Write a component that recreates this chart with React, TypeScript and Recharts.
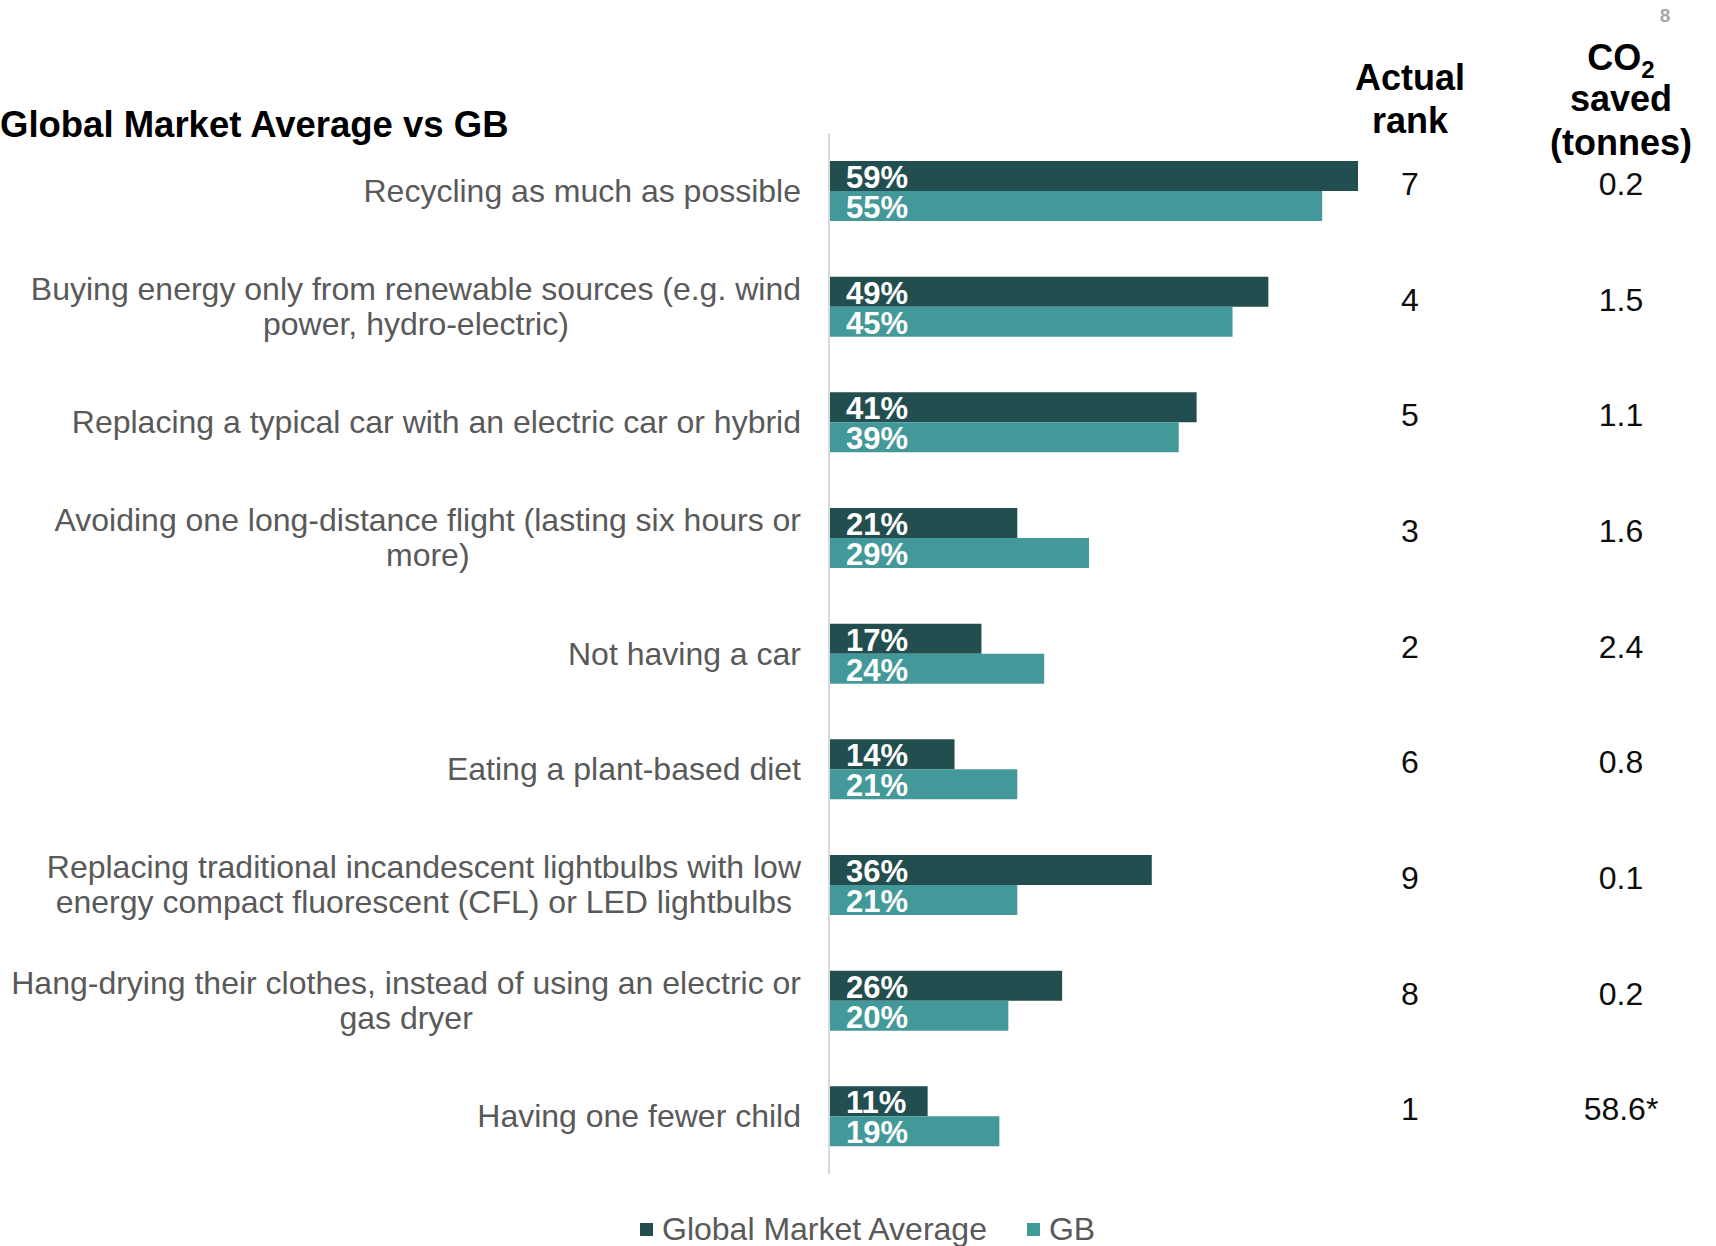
import { BarChart, Bar, XAxis, YAxis, Legend, LabelList } from 'recharts';

const categories = [
  'Recycling as much as possible',
  'Buying energy only from renewable sources (e.g. wind\npower, hydro-electric)',
  'Replacing a typical car with an electric car or hybrid',
  'Avoiding one long-distance flight (lasting six hours or\nmore)',
  'Not having a car',
  'Eating a plant-based diet',
  'Replacing traditional incandescent lightbulbs with low\nenergy compact fluorescent (CFL) or LED lightbulbs',
  'Hang-drying their clothes, instead of using an electric or\ngas dryer',
  'Having one fewer child',
];
const globalAvg = [59, 49, 41, 21, 17, 14, 36, 26, 11];
const gb = [55, 45, 39, 29, 24, 21, 21, 20, 19];
const actualRank = ['7', '4', '5', '3', '2', '6', '9', '8', '1'];
const co2Saved = ['0.2', '1.5', '1.1', '1.6', '2.4', '0.8', '0.1', '0.2', '58.6*'];
const seriesNames = ['Global Market Average', 'GB'];

const DARK = '#224E4F';
const TEAL = '#439899';
const FONT = "'Liberation Sans', Arial, sans-serif";

const data = categories.map((name, i) => ({
  name,
  global: globalAvg[i],
  gb: gb[i],
}));

let ctx: CanvasRenderingContext2D | null = null;
function textWidth(s: string): number {
  if (!ctx) ctx = document.createElement('canvas').getContext('2d');
  if (!ctx) return s.length * 15;
  ctx.font = `32px ${FONT}`;
  return ctx.measureText(s).width;
}

// category labels: right-aligned block, lines centred inside it
function CategoryTick({ x, y, payload }: any) {
  const lines: string[] = String(payload.value).split('\n');
  if (lines.length === 1) {
    return (
      <text x={x} y={y} textAnchor="end" dominantBaseline="central" fontSize={32} fill="#595959" fontFamily={FONT}>
        {lines[0]}
      </text>
    );
  }
  const w = Math.max(...lines.map(textWidth));
  const cx = x - w / 2;
  return (
    <text textAnchor="middle" dominantBaseline="central" fontSize={32} fill="#595959" fontFamily={FONT}>
      {lines.map((l, i) => (
        <tspan key={i} x={cx} y={y + (i - (lines.length - 1) / 2) * 35}>
          {l}
        </tspan>
      ))}
    </text>
  );
}

function RankTick({ x, y, index }: any) {
  return (
    <g fontFamily={FONT} fontSize={32} fill="#0d0d0d" textAnchor="middle">
      <text x={x + 43} y={y + 4}>{actualRank[index]}</text>
      <text x={x + 254} y={y + 4}>{co2Saved[index]}</text>
    </g>
  );
}

function BarValue({ x, y, height, value }: any) {
  return (
    <text x={x + 17} y={y + height - 3} fill="#fff" fontSize={31} fontWeight="bold" fontFamily={FONT}>
      {`${value}%`}
    </text>
  );
}

function Headers() {
  return (
    <g fontFamily={FONT} fill="#000">
      <text x={0} y={137} fontSize={36.5} fontWeight="bold">Global Market Average vs GB</text>
      <text x={1665} y={22} fontSize={19} fontWeight="bold" fill="#a6a6a6" textAnchor="middle">8</text>
      <g fontSize={36} fontWeight="bold" textAnchor="middle">
        <text x={1410} y={90}>Actual</text>
        <text x={1410} y={133}>rank</text>
        <text x={1621} y={70}>
          <tspan>CO</tspan>
          <tspan fontSize={24} dy={8}>2</tspan>
        </text>
        <text x={1621} y={111}>saved</text>
        <text x={1621} y={155}>(tonnes)</text>
      </g>
    </g>
  );
}

function renderLegend({ payload }: any) {
  if (!payload) return null;
  const items = [...payload].sort(
    (a: any, b: any) => seriesNames.indexOf(a.value) - seriesNames.indexOf(b.value),
  );
  return (
    <div style={{ display: 'flex', alignItems: 'center', paddingLeft: 640, fontFamily: FONT, fontSize: 32, color: '#595959', lineHeight: '36px' }}>
      {items.map((entry: any) => (
        <div key={entry.value} style={{ display: 'flex', alignItems: 'center', marginRight: 40 }}>
          <span style={{ display: 'inline-block', width: 13, height: 13, background: entry.color, marginRight: 9 }} />
          <span>{entry.value}</span>
        </div>
      ))}
    </div>
  );
}

export default function App() {
  return (
    <div style={{ position: 'absolute', left: 0, top: 0, background: '#fff' }}>
      <BarChart
        width={1716}
        height={1246}
        data={data}
        layout="vertical"
        margin={{ top: 133, right: 0, bottom: 72, left: 0 }}
        barGap={0}
      >
        <XAxis type="number" domain={[0, 60]} hide />
        <YAxis
          yAxisId="left"
          type="category"
          dataKey="name"
          width={829}
          tickSize={0}
          tickMargin={28}
          tickLine={false}
          axisLine={{ stroke: '#d9d9d9', strokeWidth: 2 }}
          tick={<CategoryTick />}
          interval={0}
        />
        <YAxis
          yAxisId="right"
          orientation="right"
          type="category"
          dataKey="name"
          width={349}
          tickSize={0}
          tickMargin={0}
          tickLine={false}
          axisLine={false}
          tick={<RankTick />}
          interval={0}
        />
        <Bar yAxisId="left" dataKey="global" name={seriesNames[0]} fill={DARK} barSize={30} isAnimationActive={false}>
          <LabelList dataKey="global" content={<BarValue />} />
        </Bar>
        <Bar yAxisId="left" dataKey="gb" name={seriesNames[1]} fill={TEAL} barSize={30} isAnimationActive={false}>
          <LabelList dataKey="gb" content={<BarValue />} />
        </Bar>
        <Legend
          layout="horizontal"
          verticalAlign="middle"
          align="center"
          content={renderLegend}
          wrapperStyle={{ top: 1211, left: 0, width: 1716 }}
        />
        <Headers />
      </BarChart>
    </div>
  );
}
